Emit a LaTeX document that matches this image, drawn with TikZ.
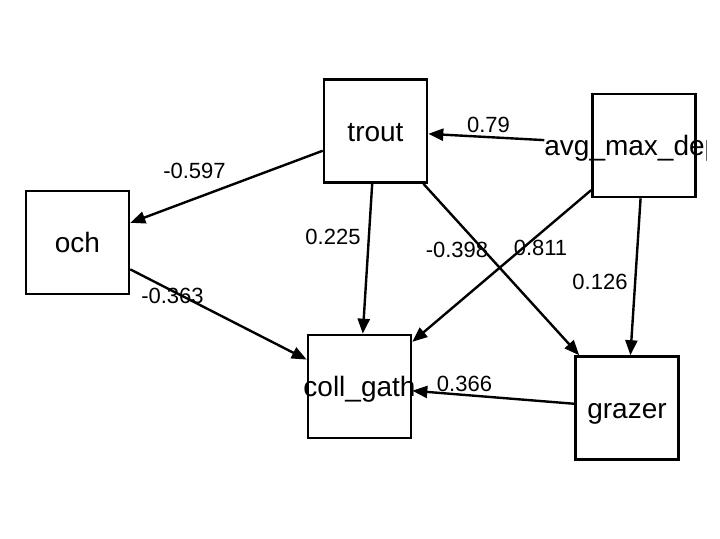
\documentclass[tikz,border=0pt]{standalone}
\usepackage{fontspec}
\setmainfont{Liberation Sans}
\usetikzlibrary{arrows.meta}
\tikzset{
  box/.style={draw=black, line width=2.6pt, rectangle, minimum width=103pt, minimum height=103pt, inner sep=0pt},
  boxtext/.style={font=\fontsize{28}{30}\selectfont, inner sep=0pt, text height=20pt, text depth=0pt},
  edge/.style={draw=black, line width=2.4pt, -{Triangle[length=15pt,width=12pt]}},
  elabel/.style={font=\fontsize{22}{24}\selectfont, inner sep=0pt}
}
\begin{document}
\begin{tikzpicture}[x=1pt,y=-1pt]
\useasboundingbox (0,0) rectangle (720,538);
% boxes
\node[box] (trout) at (375.5,131) {};
\node[box] (avg) at (644,145.5) {};
\node[box] (och) at (77.5,242.5) {};
\node[box] (coll) at (359.5,386.5) {};
\node[box] (grazer) at (627,408) {};
% edges
\draw[edge, shorten <=47pt] (avg) -- (trout);
\draw[edge] (trout) -- (och);
\draw[edge] (trout) -- (coll);
\draw[edge] (trout) -- (grazer);
\draw[edge] (avg) -- (coll);
\draw[edge] (avg) -- (grazer);
\draw[edge] (och) -- (coll);
\draw[edge] (grazer) -- (coll);
% texts
\node[boxtext] (troutt) at (trout) {trout};
\node[boxtext] (ocht) at (och) {och};
\node[boxtext] (collt) at (coll) {coll\_gath};
\node[boxtext] (grazert) at (grazer) {grazer};
\begin{scope}
\clip (0,0) rectangle (706,538);
\node[boxtext] (avgt) at (avg) {avg\_max\_depth};
\end{scope}
% edge labels
\node[elabel] (l1) at (488.5,125) {0.79};
\node[elabel] (l2) at (194.5,170.5) {-0.597};
\node[elabel] (l3) at (333,237) {0.225};
\node[elabel] (l4) at (457,250) {-0.398};
\node[elabel] (l5) at (540.5,248) {0.811};
\node[elabel] (l6) at (600,282) {0.126};
\node[elabel] (l7) at (172.5,296) {-0.363};
\node[elabel] (l8) at (464.5,384) {0.366};
\end{tikzpicture}
\end{document}
